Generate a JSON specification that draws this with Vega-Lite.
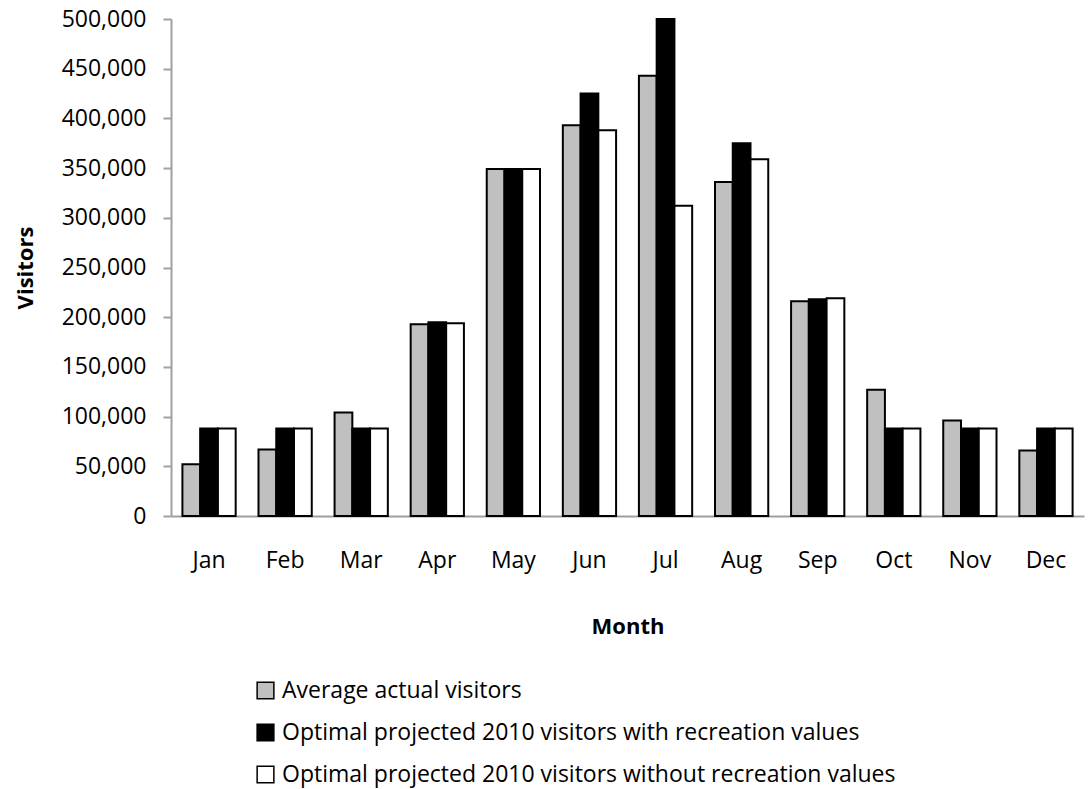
{
  "$schema": "https://vega.github.io/schema/vega-lite/v6.json",
  "autosize": "none",
  "width": 913,
  "height": 497,
  "padding": {"left": 171, "top": 19, "right": 5, "bottom": 273},
  "background": "white",
  "config": {
    "font": "Open Sans",
    "view": {"stroke": null}
  },
  "data": {
    "values": [
      {"month": "Jan", "series": "Average actual visitors", "visitors": 52000},
      {"month": "Jan", "series": "Optimal projected 2010 visitors with recreation values", "visitors": 88000},
      {"month": "Jan", "series": "Optimal projected 2010 visitors without recreation values", "visitors": 88000},
      {"month": "Feb", "series": "Average actual visitors", "visitors": 67000},
      {"month": "Feb", "series": "Optimal projected 2010 visitors with recreation values", "visitors": 88000},
      {"month": "Feb", "series": "Optimal projected 2010 visitors without recreation values", "visitors": 88000},
      {"month": "Mar", "series": "Average actual visitors", "visitors": 104000},
      {"month": "Mar", "series": "Optimal projected 2010 visitors with recreation values", "visitors": 88000},
      {"month": "Mar", "series": "Optimal projected 2010 visitors without recreation values", "visitors": 88000},
      {"month": "Apr", "series": "Average actual visitors", "visitors": 193000},
      {"month": "Apr", "series": "Optimal projected 2010 visitors with recreation values", "visitors": 195000},
      {"month": "Apr", "series": "Optimal projected 2010 visitors without recreation values", "visitors": 194000},
      {"month": "May", "series": "Average actual visitors", "visitors": 349000},
      {"month": "May", "series": "Optimal projected 2010 visitors with recreation values", "visitors": 349000},
      {"month": "May", "series": "Optimal projected 2010 visitors without recreation values", "visitors": 349000},
      {"month": "Jun", "series": "Average actual visitors", "visitors": 393000},
      {"month": "Jun", "series": "Optimal projected 2010 visitors with recreation values", "visitors": 425000},
      {"month": "Jun", "series": "Optimal projected 2010 visitors without recreation values", "visitors": 388000},
      {"month": "Jul", "series": "Average actual visitors", "visitors": 443000},
      {"month": "Jul", "series": "Optimal projected 2010 visitors with recreation values", "visitors": 500000},
      {"month": "Jul", "series": "Optimal projected 2010 visitors without recreation values", "visitors": 312000},
      {"month": "Aug", "series": "Average actual visitors", "visitors": 336000},
      {"month": "Aug", "series": "Optimal projected 2010 visitors with recreation values", "visitors": 375000},
      {"month": "Aug", "series": "Optimal projected 2010 visitors without recreation values", "visitors": 359000},
      {"month": "Sep", "series": "Average actual visitors", "visitors": 216000},
      {"month": "Sep", "series": "Optimal projected 2010 visitors with recreation values", "visitors": 218000},
      {"month": "Sep", "series": "Optimal projected 2010 visitors without recreation values", "visitors": 219000},
      {"month": "Oct", "series": "Average actual visitors", "visitors": 127000},
      {"month": "Oct", "series": "Optimal projected 2010 visitors with recreation values", "visitors": 88000},
      {"month": "Oct", "series": "Optimal projected 2010 visitors without recreation values", "visitors": 88000},
      {"month": "Nov", "series": "Average actual visitors", "visitors": 96000},
      {"month": "Nov", "series": "Optimal projected 2010 visitors with recreation values", "visitors": 88000},
      {"month": "Nov", "series": "Optimal projected 2010 visitors without recreation values", "visitors": 88000},
      {"month": "Dec", "series": "Average actual visitors", "visitors": 66000},
      {"month": "Dec", "series": "Optimal projected 2010 visitors with recreation values", "visitors": 88000},
      {"month": "Dec", "series": "Optimal projected 2010 visitors without recreation values", "visitors": 88000}
    ]
  },
  "mark": {"type": "bar", "stroke": "black", "strokeWidth": 2},
  "encoding": {
    "x": {
      "field": "month",
      "type": "nominal",
      "sort": ["Jan","Feb","Mar","Apr","May","Jun","Jul","Aug","Sep","Oct","Nov","Dec"],
      "scale": {"paddingInner": 0.3, "paddingOuter": 0.15},
      "axis": {
        "title": "Month",
        "titleFontSize": 22,
        "titleFontWeight": "bold",
        "titleColor": "black",
        "titlePadding": 44,
        "labelAngle": 0,
        "labelFontSize": 23,
        "labelColor": "black",
        "labelPadding": 33,
        "ticks": false,
        "domainColor": "#a0a0a0",
        "domainWidth": 2
      }
    },
    "xOffset": {
      "field": "series",
      "type": "nominal",
      "sort": ["Average actual visitors", "Optimal projected 2010 visitors with recreation values", "Optimal projected 2010 visitors without recreation values"]
    },
    "y": {
      "field": "visitors",
      "type": "quantitative",
      "scale": {"domain": [0, 500000], "nice": false, "clamp": true},
      "axis": {
        "title": "Visitors",
        "titleFontSize": 22,
        "titleFontWeight": "bold",
        "titleColor": "black",
        "titlePadding": 24,
        "values": [0,50000,100000,150000,200000,250000,300000,350000,400000,450000,500000],
        "format": ",d",
        "labelFontSize": 23,
        "labelColor": "black",
        "labelPadding": 17,
        "grid": false,
        "tickColor": "#a0a0a0",
        "tickSize": 8,
        "tickWidth": 2,
        "domainColor": "#a0a0a0",
        "domainWidth": 2
      }
    },
    "fill": {
      "field": "series",
      "type": "nominal",
      "sort": ["Average actual visitors", "Optimal projected 2010 visitors with recreation values", "Optimal projected 2010 visitors without recreation values"],
      "scale": {
        "domain": ["Average actual visitors", "Optimal projected 2010 visitors with recreation values", "Optimal projected 2010 visitors without recreation values"],
        "range": ["#c0c0c0", "#000000", "#ffffff"]
      },
      "legend": {
        "title": null,
        "orient": "none",
        "legendX": 83,
        "legendY": 660,
        "direction": "vertical",
        "symbolType": "square",
        "symbolSize": 280,
        "symbolStrokeColor": "black",
        "symbolStrokeWidth": 1.5,
        "labelFontSize": 23,
        "labelColor": "black",
        "labelLimit": 800,
        "rowPadding": 18,
        "labelOffset": 5
      }
    }
  }
}
